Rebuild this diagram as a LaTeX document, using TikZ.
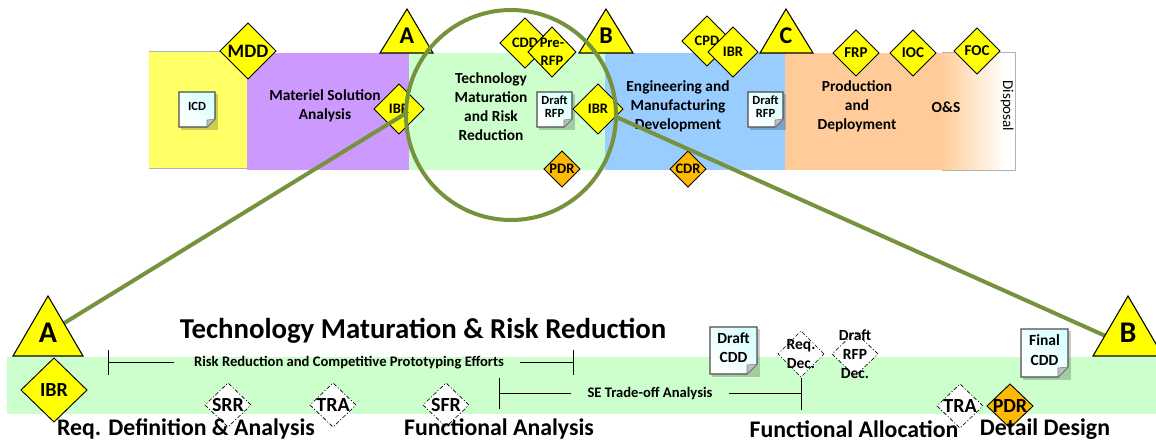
\documentclass[tikz,border=0pt]{standalone}
\usepackage{fontspec}
\setmainfont{Carlito}
\usetikzlibrary{shapes.geometric}
\definecolor{olv}{HTML}{76923C}
\definecolor{gy}{HTML}{FFFF66}
\definecolor{pur}{HTML}{CC99FF}
\definecolor{grn}{HTML}{CCFFCC}
\definecolor{blu}{HTML}{99CCFF}
\definecolor{org}{HTML}{FFCC99}
\definecolor{amb}{HTML}{FFB900}
\definecolor{ylw}{HTML}{FFFF00}
\newcommand{\fpx}[1]{\fontsize{\dimexpr#1pt*3/4\relax}{\dimexpr#1pt*93/100\relax}\selectfont}
\tikzset{
  dia/.style n args={2}{diamond,aspect=1,inner sep=0pt,outer sep=0pt,draw=black,line width=.7pt,fill=ylw,
     minimum width=#1*1.5pt,minimum height=#2*1.5pt},
  pdr/.style={fill=amb},
  dsh/.style={fill=white,line width=.5pt,dash pattern=on 3pt off 1.5pt on .8pt off 1.5pt},
  lab/.style={align=center,inner sep=0pt,text=black,font=\fpx{#1}\bfseries},
  txt/.style={align=center,inner sep=0pt,font=\fpx{#1}\bfseries},
  tri/.style={draw=black,line width=.8pt,fill=ylw,line join=miter},
  bar/.style={draw=black,line width=.7pt},
  bigline/.style={draw=olv,line width=3pt},
  zoomring/.style={circle,inner sep=0pt,outer sep=0pt,draw=olv,line width=3pt,minimum size=157.5pt},
}
% folded note: name, x1, y1, x2, y2, corner, text, font size
\newcommand{\notebox}[8]{%
  \fill[black,opacity=.2] (#2+2,#3+2) rectangle (#4+3,#5+3);
  \shade[left color=white,right color=white!85!cyan,shading angle=135,draw=black!70,line width=.9pt]
    (#2,#3) -- (#4,#3) -- (#4,#5-#6) -- (#4-#6,#5) -- (#2,#5) -- cycle;
  \filldraw[fill=black!25,draw=black!50,line width=.4pt] (#4,#5-#6) -- (#4-#6,#5-#6+1) -- (#4-#6,#5) -- cycle;
  \node[txt=#8] (#1) at ({(#2+#4)/2},{(#3+#5)/2-3}) {#7};
}
\begin{document}
\begin{tikzpicture}[x=.75pt,y=-.75pt]
\useasboundingbox (0,0) rectangle (1156,444);
\clip (0,0) rectangle (1156,444);
% phases
\fill[gy] (149,51) rectangle (247,168);
\draw[black!30,line width=.6pt] (149,51) -- (247,51) (149,168) -- (247,168);
\fill[pur] (247,53) rectangle (409,170);
\fill[grn] (409,53) rectangle (605,170);
\fill[blu] (605,53) rectangle (785,170);
\fill[org] (785,53) rectangle (943,170);
\shade[left color=org,right color=white] (942,53) rectangle (1006,170);
\fill[white] (1006,53) rectangle (1015,170);
\draw[black!30,line width=.6pt] (942,52) -- (1015,52) -- (1015,170) -- (942,170);
% phase labels
\node[txt=15.4] (msa) at (325,106) {Materiel Solution\\Analysis};
\node[txt=15.4] (tmrr) at (491,107) {Technology\\Maturation\\and Risk\\Reduction};
\node[txt=15.4] (emd) at (678,106) {Engineering and\\Manufacturing\\Development};
\node[txt=15.4] (pd) at (857,106) {Production\\and\\Deployment};
\node[txt=15.4] (os) at (946,107) {O\&S};
\node[align=center,inner sep=0pt,rotate=-90,font=\fpx{15}] (disp) at (1007,106) {Disposal};
% notes top
\notebox{icd}{179}{92}{215}{127}{8}{ICD}{12.5}
\notebox{drfpa}{537}{92}{572}{127}{8}{Draft\\[-2pt]RFP}{12.5}
\notebox{drfpb}{748}{92}{783}{127}{8}{Draft\\[-2pt]RFP}{12.5}
% top diamonds
\node[dia={28}{28},label={[lab=19]center:MDD}] (mdd) at (248,51) {};
\node[dia={25}{25},label={[lab=14.5]center:IBR}] (ibra) at (399,109) {};
\node[dia={25}{25},label={[lab=14.5]center:CDD}] (cdd) at (525,43) {};
\node[dia={24}{25},label={[lab=14.5]center:Pre-\\RFP}] (prerfp) at (552,52) {};
\node[dia={18}{18},pdr,label={[lab=14.5]center:PDR}] (pdra) at (562,169) {};
\node[dia={25}{25},label={[lab=14.5]center:IBR}] (ibrb) at (598,109) {};
\node[dia={25}{25},label={[lab=14.5]center:CPD}] (cpd) at (707,41) {};
\node[dia={25}{25},label={[lab=14.5]center:IBR}] (ibrc) at (733,52) {};
\node[dia={18}{18},pdr,label={[lab=14.5]center:CDR}] (cdr) at (688,169) {};
\node[dia={23}{23},label={[lab=15]center:FRP}] (frp) at (856,53) {};
\node[dia={23}{23},label={[lab=15]center:IOC}] (ioc) at (913,53) {};
\node[dia={23}{23},label={[lab=15]center:FOC}] (foc) at (977,51) {};
% top triangles
\draw[tri] (407,9) -- (380,53) -- (433,53) -- cycle;
\node[txt=24] (ta) at (407,36) {A};
\draw[tri] (606,9) -- (579,53) -- (633,53) -- cycle;
\node[txt=24] (tb) at (606,36) {B};
\draw[tri] (786,9) -- (760,53) -- (813,53) -- cycle;
\node[txt=24] (tc) at (786,36) {C};
% lower band
\fill[grn] (7,357) rectangle (1156,414);
% title
\node[txt=28.8] (title) at (423,331) {Technology Maturation \& Risk Reduction};
% brackets
\node[txt=14.6] (rr) at (349,363) {Risk Reduction and Competitive Prototyping Efforts};
\coordinate (rrl) at (108,362);
\coordinate (rrr) at (573,362);
\draw[bar] (rrl) -- ([xshift=-15pt]rr.west |- rrl);
\draw[bar] ([xshift=12pt]rr.east |- rrr) -- (rrr);
\draw[bar] (108,350) -- (108,375) (573,350) -- (573,375);
\node[txt=14.6] (se) at (650,394) {SE Trade-off Analysis};
\coordinate (sel) at (499,393);
\coordinate (ser) at (801,393);
\draw[bar] (sel) -- ([xshift=-12pt]se.west |- sel);
\draw[bar] ([xshift=12pt]se.east |- ser) -- (ser);
\draw[bar] (499,378) -- (499,409) (801,378) -- (801,410);
% lower notes
\notebox{dcdd}{710}{327}{757}{374}{10}{Draft\\CDD}{15.5}
\notebox{fcdd}{1021}{329}{1068}{377}{10}{Final\\CDD}{15.5}
% lower diamonds
\node[dia={33}{32},label={[lab=20]center:IBR}] (ibrd) at (54,390) {};
\node[dia={23}{22},dsh,label={[lab=20]center:SRR}] (srr) at (228,405) {};
\node[dia={23}{22},dsh,label={[lab=20]center:TRA}] (traa) at (333,405) {};
\node[dia={23}{22},dsh,label={[lab=20]center:SFR}] (sfr) at (446,405) {};
\node[dia={23}{23},dsh,label={[lab=15.5]center:Req.\\Dec.}] (req) at (801,354) {};
\node[dia={23}{22},dsh,label={[lab=15.5]center:Draft\\RFP\\Dec.}] (rfpd) at (855,354) {};
\node[dia={23}{22},dsh,label={[lab=20]center:TRA}] (trab) at (960,406) {};
\node[dia={23}{22},pdr,label={[lab=20]center:PDR}] (pdrb) at (1010,406) {};
% lower labels
\node[txt=23.8] (l1) at (186,429) {Req. Definition \& Analysis};
\node[txt=23.8] (l2) at (499,429) {Functional Analysis};
\node[txt=23.8] (l3) at (854,429) {Functional Allocation};
\node[txt=23.8] (l4) at (1045,429) {Detail Design};
% zoom ring and leader lines
\node[zoomring] (ring) at (511,115) {};
\coordinate (bend) at (1128,346);
\coordinate (aend) at (48,333);
\draw[bigline] (aend) -- (ring.179);
\draw[bigline] (ring.359) -- (bend);
% lower triangles
\draw[tri] (48,296) -- (13,356) -- (83,356) -- cycle;
\node[txt=30] (tla) at (48,333) {A};
\draw[tri] (1128,296) -- (1093,356) -- (1163,356) -- cycle;
\node[txt=30] (tlb) at (1128,333) {B};
\end{tikzpicture}
\end{document}
